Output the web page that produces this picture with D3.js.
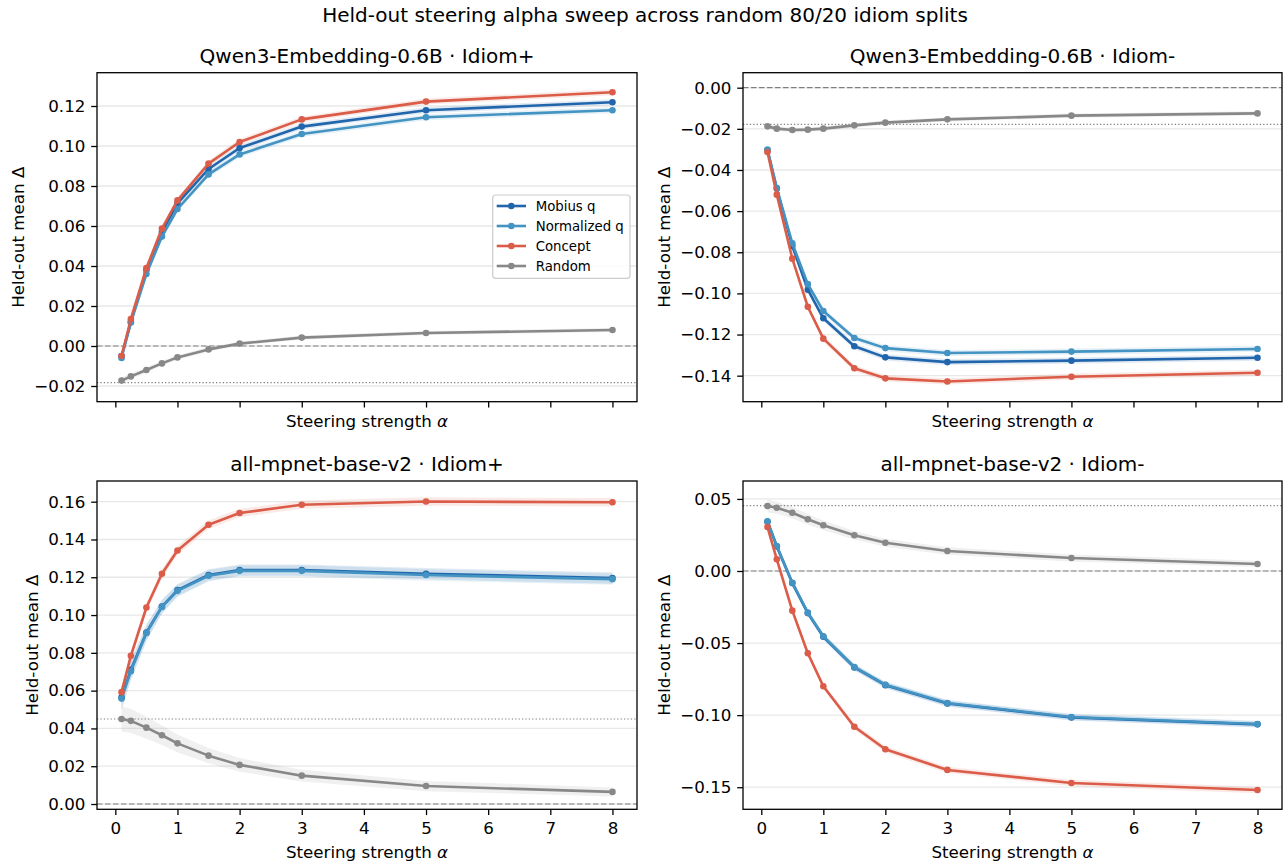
<!DOCTYPE html>
<html><head><meta charset="utf-8">
<script src="https://cdn.jsdelivr.net/npm/d3@7"></script>
<style>body{margin:0;background:#fff} svg{font-family:"DejaVu Sans",sans-serif}</style>
</head><body><svg id="c" width="1286" height="865"></svg>
<script>
// ---------------- data ----------------
const alphas = [0.1, 0.25, 0.5, 0.75, 1, 1.5, 2, 3, 5, 8];
const seriesNames = ["Mobius q", "Normalized q", "Concept", "Random"];
const xTicks = [0, 1, 2, 3, 4, 5, 6, 7, 8];

// Qwen3-Embedding-0.6B · Idiom+
const qwenPlusMobius     = [-0.005, 0.012, 0.038, 0.057, 0.0713, 0.0885, 0.099, 0.1097, 0.1179, 0.1219];
const qwenPlusNormalized = [-0.006, 0.0117, 0.036, 0.0547, 0.0685, 0.0858, 0.0958, 0.106, 0.1144, 0.1179];
const qwenPlusConcept    = [-0.005, 0.0135, 0.039, 0.0587, 0.0728, 0.0912, 0.102, 0.1133, 0.1222, 0.1269];
const qwenPlusRandom     = [-0.0173, -0.0152, -0.012, -0.0087, -0.0057, -0.0017, 0.0012, 0.0042, 0.0065, 0.008];
const qwenPlusBaseline   = -0.0183;
const qwenPlusBand       = [0.0015, 0.0015, 0.0015, 0.0015, 0.0015, 0.0015, 0.0015, 0.0015, 0.0015, 0.0015];
const qwenPlusRandomBand = [0.0015, 0.0014, 0.0013, 0.0012, 0.0012, 0.0011, 0.001, 0.001, 0.001, 0.001];
const qwenPlusTicks      = [-0.02, 0, 0.02, 0.04, 0.06, 0.08, 0.10, 0.12];

// Qwen3-Embedding-0.6B · Idiom-
const qwenMinusMobius     = [-0.0305, -0.049, -0.077, -0.0982, -0.1121, -0.1257, -0.1311, -0.1334, -0.1327, -0.1313];
const qwenMinusNormalized = [-0.0301, -0.0488, -0.0756, -0.0955, -0.1086, -0.1217, -0.1266, -0.129, -0.1283, -0.127];
const qwenMinusConcept    = [-0.0313, -0.052, -0.0831, -0.1065, -0.122, -0.1364, -0.1413, -0.1428, -0.1405, -0.1386];
const qwenMinusRandom     = [-0.0188, -0.0199, -0.0206, -0.0204, -0.0199, -0.0183, -0.017, -0.0154, -0.0136, -0.0125];
const qwenMinusBaseline   = -0.0178;
const qwenMinusBand       = [0.0015, 0.0015, 0.0015, 0.0015, 0.0015, 0.0015, 0.0015, 0.0015, 0.0015, 0.0015];
const qwenMinusRandomBand = [0.0012, 0.0012, 0.0011, 0.0011, 0.001, 0.001, 0.001, 0.001, 0.001, 0.001];
const qwenMinusTicks      = [-0.14, -0.12, -0.10, -0.08, -0.06, -0.04, -0.02, 0.00];

// all-mpnet-base-v2 · Idiom+
const mpnetPlusMobius     = [0.0565, 0.071, 0.0908, 0.1045, 0.1132, 0.1212, 0.1238, 0.1238, 0.1219, 0.1196];
const mpnetPlusNormalized = [0.0558, 0.0703, 0.0905, 0.1043, 0.1128, 0.1208, 0.1234, 0.1234, 0.1212, 0.119];
const mpnetPlusConcept    = [0.0592, 0.0784, 0.104, 0.1219, 0.1342, 0.1478, 0.154, 0.1584, 0.1601, 0.1597];
const mpnetPlusRandom     = [0.045, 0.044, 0.0404, 0.0364, 0.0321, 0.0256, 0.0207, 0.015, 0.0095, 0.0064];
const mpnetPlusBaseline   = 0.045;
const mpnetPlusBand       = [0.006, 0.005, 0.0042, 0.0036, 0.0032, 0.003, 0.003, 0.003, 0.003, 0.003];
const mpnetPlusConceptBand= [0.003, 0.003, 0.0027, 0.0025, 0.0024, 0.0023, 0.0022, 0.0022, 0.0022, 0.0022];
const mpnetPlusRandomBand = [0.0068, 0.0064, 0.0058, 0.0052, 0.0047, 0.004, 0.0036, 0.0031, 0.0027, 0.0024];
const mpnetPlusTicks      = [0, 0.02, 0.04, 0.06, 0.08, 0.10, 0.12, 0.14, 0.16];

// all-mpnet-base-v2 · Idiom-
const mpnetMinusMobius     = [0.0342, 0.017, -0.0084, -0.0292, -0.0456, -0.0669, -0.0792, -0.0919, -0.1016, -0.1064];
const mpnetMinusNormalized = [0.0345, 0.0173, -0.0081, -0.0289, -0.0453, -0.0666, -0.0789, -0.0916, -0.1013, -0.1061];
const mpnetMinusConcept    = [0.0305, 0.0081, -0.0275, -0.0571, -0.08, -0.108, -0.1237, -0.138, -0.1471, -0.1519];
const mpnetMinusRandom     = [0.0451, 0.0439, 0.0404, 0.0359, 0.0317, 0.0248, 0.0196, 0.0139, 0.009, 0.0049];
const mpnetMinusBaseline   = 0.0453;
const mpnetMinusBand       = [0.0028, 0.0026, 0.0024, 0.0022, 0.0022, 0.0022, 0.0022, 0.0022, 0.0022, 0.0022];
const mpnetMinusRandomBand = [0.0045, 0.0042, 0.004, 0.0036, 0.0033, 0.003, 0.0028, 0.0026, 0.0024, 0.0022];
const mpnetMinusTicks      = [-0.15, -0.10, -0.05, 0.00, 0.05];

// ---------------- config ----------------
const colors = ["#2166ac", "#4393c3", "#db5c48", "#888888"];
const W = 1286, H = 865;
const colX = [[97, 637], [743, 1282]];
const rowY = [[72.7, 401.7], [481, 809.3]];
const xDomain = [-0.295, 8.395];

const panels = [
  {title: "Qwen3-Embedding-0.6B · Idiom+", col: 0, row: 0, yDomain: [-0.02785, 0.13665], ticks: qwenPlusTicks,
   series: [qwenPlusMobius, qwenPlusNormalized, qwenPlusConcept, qwenPlusRandom],
   bands: [qwenPlusBand, qwenPlusBand, qwenPlusBand, qwenPlusRandomBand], baseline: qwenPlusBaseline, legend: true},
  {title: "Qwen3-Embedding-0.6B · Idiom-", col: 1, row: 0, yDomain: [-0.15265, 0.00729], ticks: qwenMinusTicks,
   series: [qwenMinusMobius, qwenMinusNormalized, qwenMinusConcept, qwenMinusRandom],
   bands: [qwenMinusBand, qwenMinusBand, qwenMinusBand, qwenMinusRandomBand], baseline: qwenMinusBaseline},
  {title: "all-mpnet-base-v2 · Idiom+", col: 0, row: 1, yDomain: [-0.0028, 0.17095], ticks: mpnetPlusTicks,
   series: [mpnetPlusMobius, mpnetPlusNormalized, mpnetPlusConcept, mpnetPlusRandom],
   bands: [mpnetPlusBand, mpnetPlusBand, mpnetPlusConceptBand, mpnetPlusRandomBand], baseline: mpnetPlusBaseline},
  {title: "all-mpnet-base-v2 · Idiom-", col: 1, row: 1, yDomain: [-0.16532, 0.06244], ticks: mpnetMinusTicks,
   series: [mpnetMinusMobius, mpnetMinusNormalized, mpnetMinusConcept, mpnetMinusRandom],
   bands: [mpnetMinusBand, mpnetMinusBand, mpnetMinusBand, mpnetMinusRandomBand], baseline: mpnetMinusBaseline}
];

const svg = d3.select("#c");
const fmt = v => d3.format(".2f")(v).replace("-", "\u2212");
const FS = 16.7;

svg.append("text").attr("x", 645).attr("y", 21.7).attr("text-anchor", "middle")
  .attr("font-size", 20).attr("fill", "#000")
  .text("Held-out steering alpha sweep across random 80/20 idiom splits");

panels.forEach(p => {
  const [x0, x1] = colX[p.col], [y0, y1] = rowY[p.row];
  const x = d3.scaleLinear().domain(xDomain).range([x0, x1]);
  const y = d3.scaleLinear().domain(p.yDomain).range([y1, y0]);
  const g = svg.append("g");
  const clipId = "clip" + p.col + p.row;
  svg.append("clipPath").attr("id", clipId).append("rect")
    .attr("x", x0).attr("y", y0).attr("width", x1 - x0).attr("height", y1 - y0);
  const plot = g.append("g").attr("clip-path", `url(#${clipId})`);

  // grid
  plot.selectAll(".grid").data(p.ticks).join("line")
    .attr("x1", x0).attr("x2", x1).attr("y1", d => y(d)).attr("y2", d => y(d))
    .attr("stroke", "#e8e8e8").attr("stroke-width", 1.3);

  // reference lines
  plot.append("line").attr("x1", x0).attr("x2", x1).attr("y1", y(0)).attr("y2", y(0))
    .attr("stroke", "#808080").attr("stroke-width", 1.2).attr("stroke-dasharray", "5.5,2.5");
  plot.append("line").attr("x1", x0).attr("x2", x1).attr("y1", y(p.baseline)).attr("y2", y(p.baseline))
    .attr("stroke", "#808080").attr("stroke-width", 1.2).attr("stroke-dasharray", "1.3,2.1");

  const area = d3.area().x((d, i) => x(alphas[i])).y0(d => y(d[0] - d[1])).y1(d => y(d[0] + d[1]));
  const line = d3.line().x((d, i) => x(alphas[i])).y(d => y(d));

  p.series.forEach((s, k) => {
    const bandData = s.map((v, i) => [v, p.bands[k][i]]);
    plot.append("path").datum(bandData).attr("d", area)
      .attr("fill", colors[k]).attr("fill-opacity", 0.13).attr("stroke", "none");
  });
  p.series.forEach((s, k) => {
    plot.append("path").datum(s).attr("d", line)
      .attr("fill", "none").attr("stroke", colors[k]).attr("stroke-width", 2.6)
      .attr("stroke-linejoin", "round").attr("stroke-linecap", "round");
    plot.selectAll(null).data(s).join("circle")
      .attr("cx", (d, i) => x(alphas[i])).attr("cy", d => y(d)).attr("r", 3.3)
      .attr("fill", colors[k]);
  });

  // axes
  const xAxis = d3.axisBottom(x).tickValues(xTicks).tickSize(5.8).tickPadding(5.8)
    .tickFormat(p.row === 1 ? d3.format("d") : () => "");
  const gx = g.append("g").attr("transform", `translate(0,${y1})`).call(xAxis);
  gx.select(".domain").remove();
  gx.selectAll("line").attr("stroke", "#000").attr("stroke-width", 1.3);
  gx.selectAll("text").attr("font-size", FS).attr("font-family", "DejaVu Sans").attr("fill", "#000").attr("dy", "0.8em");

  const yAxis = d3.axisLeft(y).tickValues(p.ticks).tickSize(5.8).tickPadding(5.8).tickFormat(fmt);
  const gy = g.append("g").attr("transform", `translate(${x0},0)`).call(yAxis);
  gy.select(".domain").remove();
  gy.selectAll("line").attr("stroke", "#000").attr("stroke-width", 1.3);
  gy.selectAll("text").attr("font-size", FS).attr("font-family", "DejaVu Sans").attr("fill", "#000");

  // frame
  g.append("rect").attr("x", x0).attr("y", y0).attr("width", x1 - x0).attr("height", y1 - y0)
    .attr("fill", "none").attr("stroke", "#000").attr("stroke-width", 1.3);

  // title
  g.append("text").attr("x", (x0 + x1) / 2).attr("y", y0 - 9.7).attr("text-anchor", "middle")
    .attr("font-size", 20).attr("fill", "#000").text(p.title);

  // x label
  const xl = g.append("text").attr("x", (x0 + x1) / 2).attr("y", p.row === 1 ? 857.5 : 427)
    .attr("text-anchor", "middle").attr("font-size", FS).attr("fill", "#000");
  xl.append("tspan").text("Steering strength ");
  xl.append("tspan").attr("font-style", "italic").text("α");

  // y label
  let minX = Infinity;
  gy.selectAll("text").each(function () { const b = this.getBBox(); const m = this.getCTM(); minX = Math.min(minX, b.x + m.e); });
  const lx = minX - 6.7 - 3.9;
  g.append("text").attr("transform", `translate(${lx},${(y0 + y1) / 2}) rotate(-90)`)
    .attr("text-anchor", "middle").attr("font-size", FS).attr("fill", "#000").text("Held-out mean Δ");

  // legend
  if (p.legend) {
    const lg = g.append("g");
    lg.append("rect").attr("x", 492.7).attr("y", 195).attr("width", 137.3).attr("height", 83.3)
      .attr("rx", 3).attr("fill", "#fff").attr("fill-opacity", 0.8).attr("stroke", "#cccccc").attr("stroke-width", 1.2);
    seriesNames.forEach((n, k) => {
      const cy = 206 + k * 20;
      lg.append("line").attr("x1", 496.7).attr("x2", 526).attr("y1", cy).attr("y2", cy)
        .attr("stroke", colors[k]).attr("stroke-width", 2.6);
      lg.append("circle").attr("cx", 511.3).attr("cy", cy).attr("r", 3.3).attr("fill", colors[k]);
      lg.append("text").attr("x", 535.7).attr("y", cy + 4.7).attr("font-size", 13.3).attr("fill", "#000").text(n);
    });
  }
});
</script></body></html>
